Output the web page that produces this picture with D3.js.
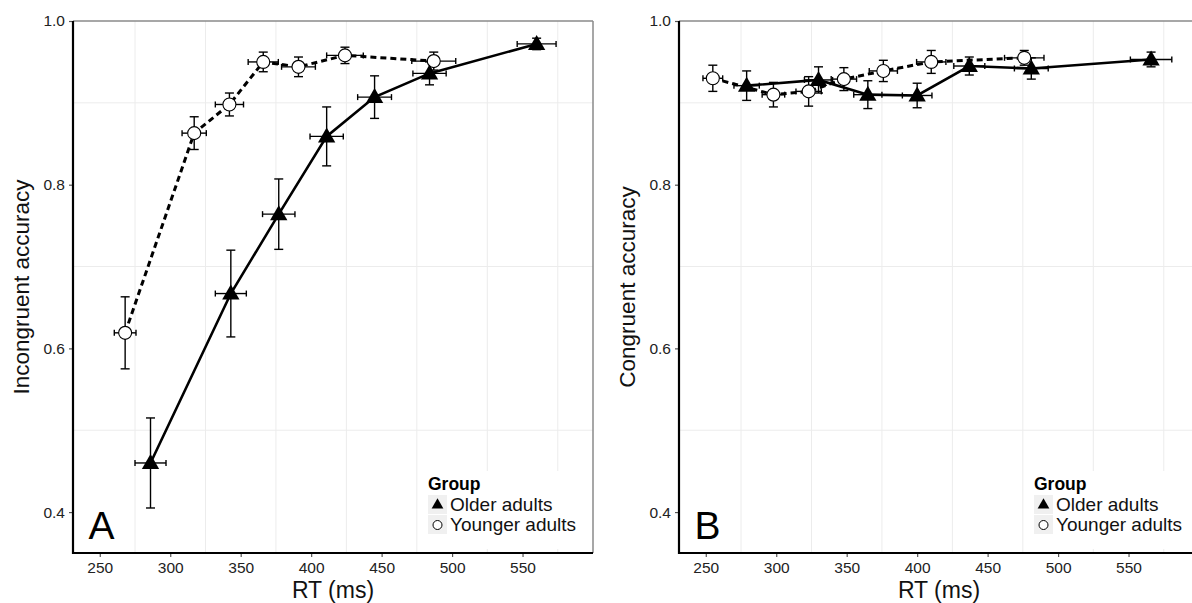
<!DOCTYPE html>
<html><head><meta charset="utf-8">
<script src="https://cdn.jsdelivr.net/npm/d3@7"></script>
<style>
html,body{margin:0;padding:0;background:#fff;}
svg{display:block;font-family:"Liberation Sans",Arial,sans-serif;}
</style></head>
<body>
<svg id="chart" width="1192" height="603"></svg>
<script>
// ---- Data ----
const groups = ["Older adults", "Younger adults"];
const xTicks = [250, 300, 350, 400, 450, 500, 550];
const yTicks = [0.4, 0.6, 0.8, 1.0];

// Panel A: Incongruent accuracy
const aOlderRT   = [286, 343, 377, 411, 445, 484, 560];
const aOlderRTse = [11, 11, 11.5, 11.8, 12, 11.8, 13.8];
const aOlderAcc  = [0.460, 0.667, 0.764, 0.859, 0.907, 0.936, 0.972];
const aOlderAccSe= [0.055, 0.053, 0.043, 0.036, 0.026, 0.014, 0.007];
const aYoungRT   = [268, 317, 342, 366, 391, 424, 487];
const aYoungRTse = [7.7, 8.6, 10, 10.7, 12, 13, 15.6];
const aYoungAcc  = [0.619, 0.863, 0.898, 0.950, 0.944, 0.958, 0.951];
const aYoungAccSe= [0.044, 0.020, 0.014, 0.012, 0.012, 0.010, 0.011];

// Panel B: Congruent accuracy
const bOlderRT   = [279, 330, 365, 400, 437, 481, 566];
const bOlderRTse = [9, 10, 10, 10.5, 11, 12, 14.7];
const bOlderAcc  = [0.921, 0.928, 0.910, 0.909, 0.945, 0.942, 0.953];
const bOlderAccSe= [0.018, 0.016, 0.017, 0.015, 0.011, 0.013, 0.009];
const bYoungRT   = [255, 298, 323, 348, 376, 410, 476];
const bYoungRTse = [7, 8, 9, 9, 10, 10.4, 14];
const bYoungAcc  = [0.930, 0.910, 0.914, 0.929, 0.939, 0.950, 0.955];
const bYoungAccSe= [0.016, 0.015, 0.018, 0.014, 0.013, 0.014, 0.009];

const svg = d3.select("#chart");
const W = 520, H = 532;

function zip(rt, rtse, acc, accse){
  return rt.map((d,i)=>({x:d, xe:rtse[i], y:acc[i], ye:accse[i]}));
}

function panel(left, top, title, letter, older, young){
  const x = d3.scaleLinear().domain([231, 600]).range([0, W]);
  const y = d3.scaleLinear().domain([0.35, 1.0]).range([H, 0]);
  const g = svg.append("g").attr("transform", `translate(${left},${top})`);

  // minor grid
  const gx = d3.range(275, 600, 50), gy = [0.5, 0.7, 0.9];
  g.selectAll(".gx").data(gx).join("line")
    .attr("x1", d=>x(d)).attr("x2", d=>x(d)).attr("y1",0).attr("y2",H)
    .attr("stroke","#ececec").attr("stroke-width",1);
  g.selectAll(".gy").data(gy).join("line")
    .attr("x1",0).attr("x2",W).attr("y1",d=>y(d)).attr("y2",d=>y(d))
    .attr("stroke","#ececec").attr("stroke-width",1);

  // top/right border (gray)
  g.append("line").attr("x1",0).attr("x2",W).attr("y1",0).attr("y2",0).attr("stroke","#8a8a8a").attr("stroke-width",1.5);
  g.append("line").attr("x1",W).attr("x2",W).attr("y1",0).attr("y2",H).attr("stroke","#8a8a8a").attr("stroke-width",1.5);

  // axes
  const xAxis = d3.axisBottom(x).tickValues(xTicks).tickSize(4).tickPadding(5).tickFormat(d3.format("d"));
  const yAxis = d3.axisLeft(y).tickValues(yTicks).tickSize(4).tickPadding(4).tickFormat(d3.format(".1f"));
  const xa = g.append("g").attr("transform",`translate(0,${H})`).call(xAxis);
  const ya = g.append("g").call(yAxis);
  [xa, ya].forEach(a=>{
    a.select(".domain").remove();
    a.selectAll(".tick line").attr("stroke","#555").attr("stroke-width",1.2);
    a.selectAll(".tick text").attr("fill","#222").style("font-size","15.5px").style("font-family","Liberation Sans, Arial, sans-serif");
  });
  g.append("line").attr("x1",0).attr("x2",0).attr("y1",0).attr("y2",H+1).attr("stroke","#000").attr("stroke-width",2.2);
  g.append("line").attr("x1",-1).attr("x2",W).attr("y1",H).attr("y2",H).attr("stroke","#000").attr("stroke-width",2.2);

  // axis titles
  g.append("text").attr("x", W/2).attr("y", H+45).attr("text-anchor","middle")
    .style("font-size","23px").attr("fill","#111").text("RT (ms)");
  g.append("text").attr("transform",`translate(${-44},${H/2}) rotate(-90)`).attr("text-anchor","middle")
    .style("font-size","22.5px").attr("fill","#111").text(title);

  // panel letter
  g.append("text").attr("x", x(242)).attr("y", y(0.3675)).style("font-size","39px").attr("fill","#000").text(letter);

  // legend
  const lg = g.append("g").attr("transform",`translate(${W-169},${H-82})`);
  lg.append("rect").attr("x",0).attr("y",0).attr("width",166).attr("height",78).attr("fill","#fff");
  lg.append("text").attr("x",4).attr("y",19).style("font-size","17.5px").style("font-weight","bold").text("Group");
  groups.forEach((name,i)=>{
    const ky = 24 + i*20;
    lg.append("rect").attr("x",4).attr("y",ky).attr("width",19).attr("height",19).attr("fill","#f0f0f0");
    if(i===0){
      lg.append("path").attr("d", d3.symbol(d3.symbolTriangle, 60)()).attr("transform",`translate(13.5,${ky+10})`).attr("fill","#000");
    } else {
      lg.append("circle").attr("cx",13.5).attr("cy",ky+10).attr("r",4.5).attr("fill","#fff").attr("stroke","#000").attr("stroke-width",1);
    }
    lg.append("text").attr("x",26).attr("y",ky+16).style("font-size","19px").attr("fill","#111").text(name);
  });

  const line = d3.line().x(d=>x(d.x)).y(d=>y(d.y));
  g.append("path").datum(young).attr("d",line).attr("fill","none").attr("stroke","#000")
    .attr("stroke-width",3).attr("stroke-dasharray","6,4");
  g.append("path").datum(older).attr("d",line).attr("fill","none").attr("stroke","#000")
    .attr("stroke-width",2.6);

  function errbars(data, w){
    const eg = g.append("g").attr("stroke","#000").attr("stroke-width",w).attr("fill","none");
    data.forEach(d=>{
      const cx = x(d.x), cy = y(d.y);
      const y1 = y(d.y + d.ye), y2 = y(d.y - d.ye);
      const x1 = x(d.x - d.xe), x2 = x(d.x + d.xe);
      eg.append("line").attr("x1",cx).attr("x2",cx).attr("y1",y1).attr("y2",y2);
      eg.append("line").attr("x1",cx-4.5).attr("x2",cx+4.5).attr("y1",y1).attr("y2",y1);
      eg.append("line").attr("x1",cx-4.5).attr("x2",cx+4.5).attr("y1",y2).attr("y2",y2);
      eg.append("line").attr("x1",x1).attr("x2",x2).attr("y1",cy).attr("y2",cy);
      eg.append("line").attr("x1",x1).attr("x2",x1).attr("y1",cy-3).attr("y2",cy+3);
      eg.append("line").attr("x1",x2).attr("x2",x2).attr("y1",cy-3).attr("y2",cy+3);
    });
  }
  errbars(young, 1.4);
  errbars(older, 1.4);

  g.selectAll(".yc").data(young).join("circle")
    .attr("cx",d=>x(d.x)).attr("cy",d=>y(d.y)).attr("r",6.5)
    .attr("fill","#fff").attr("stroke","#000").attr("stroke-width",1.1);
  g.selectAll(".ot").data(older).join("path")
    .attr("d", d3.symbol(d3.symbolTriangle, 130)())
    .attr("transform", d=>`translate(${x(d.x)},${y(d.y)+1})`).attr("fill","#000");
}

panel(73, 21, "Incongruent accuracy", "A",
  zip(aOlderRT,aOlderRTse,aOlderAcc,aOlderAccSe), zip(aYoungRT,aYoungRTse,aYoungAcc,aYoungAccSe));
panel(679, 21, "Congruent accuracy", "B",
  zip(bOlderRT,bOlderRTse,bOlderAcc,bOlderAccSe), zip(bYoungRT,bYoungRTse,bYoungAcc,bYoungAccSe));
</script>
</body></html>
